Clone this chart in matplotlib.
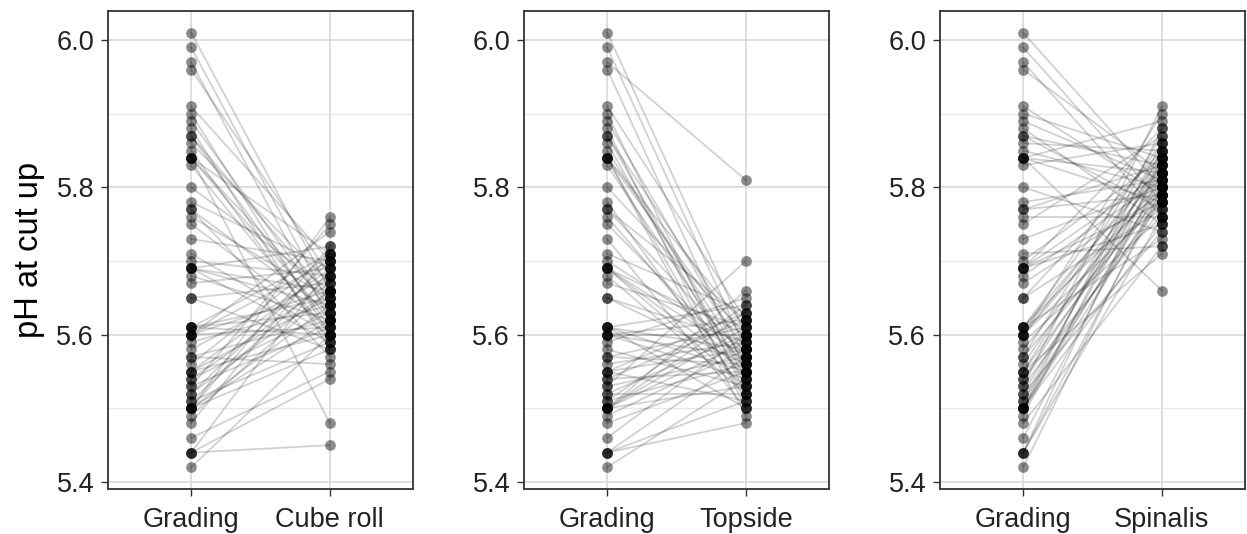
import matplotlib
matplotlib.use("Agg")
import matplotlib.pyplot as plt
from matplotlib.ticker import MultipleLocator

plt.rcParams['font.family'] = ['Liberation Sans', 'DejaVu Sans']

grading = [6.01, 5.99, 5.97, 5.96, 5.91, 5.90, 5.89, 5.88, 5.87, 5.87,
           5.86, 5.85, 5.84, 5.84, 5.84, 5.84, 5.83, 5.80, 5.78, 5.77,
           5.77, 5.76, 5.75, 5.73, 5.71, 5.70, 5.69, 5.69, 5.69, 5.69,
           5.68, 5.67, 5.65, 5.65, 5.61, 5.61, 5.61, 5.61, 5.60, 5.60,
           5.60, 5.60, 5.59, 5.58, 5.57, 5.57, 5.56, 5.55, 5.55, 5.55,
           5.54, 5.54, 5.53, 5.53, 5.52, 5.52, 5.51, 5.51, 5.50, 5.50,
           5.50, 5.50, 5.50, 5.49, 5.48, 5.46, 5.44, 5.44, 5.44, 5.42]

cube_roll = [5.66, 5.64, 5.62, 5.68, 5.70, 5.60, 5.63, 5.58, 5.65, 5.61,
             5.67, 5.59, 5.48, 5.64, 5.71, 5.62, 5.60, 5.66, 5.69, 5.63,
             5.57, 5.65, 5.61, 5.70, 5.60, 5.68, 5.64, 5.72, 5.59, 5.66,
             5.62, 5.69, 5.58, 5.67, 5.65, 5.71, 5.60, 5.63, 5.74, 5.61,
             5.66, 5.70, 5.64, 5.68, 5.62, 5.56, 5.71, 5.65, 5.69, 5.60,
             5.67, 5.63, 5.75, 5.61, 5.70, 5.66, 5.59, 5.68, 5.64, 5.72,
             5.76, 5.62, 5.58, 5.66, 5.71, 5.55, 5.45, 5.54, 5.69, 5.60]

topside = [5.60, 5.58, 5.81, 5.55, 5.62, 5.52, 5.57, 5.50, 5.54, 5.59,
           5.53, 5.56, 5.61, 5.51, 5.58, 5.49, 5.55, 5.60, 5.52, 5.57,
           5.62, 5.54, 5.56, 5.50, 5.63, 5.58, 5.55, 5.53, 5.60, 5.57,
           5.52, 5.61, 5.56, 5.59, 5.64, 5.55, 5.58, 5.50, 5.62, 5.54,
           5.57, 5.60, 5.65, 5.53, 5.56, 5.61, 5.59, 5.63, 5.51, 5.58,
           5.55, 5.62, 5.70, 5.57, 5.60, 5.52, 5.64, 5.56, 5.59, 5.61,
           5.53, 5.63, 5.66, 5.58, 5.55, 5.60, 5.48, 5.57, 5.51, 5.54]

spinalis = [5.80, 5.78, 5.76, 5.82, 5.79, 5.84, 5.81, 5.75, 5.83, 5.77,
            5.85, 5.80, 5.89, 5.66, 5.82, 5.78, 5.86, 5.74, 5.81, 5.79,
            5.83, 5.76, 5.87, 5.80, 5.72, 5.84, 5.78, 5.82, 5.75, 5.88,
            5.81, 5.79, 5.85, 5.77, 5.83, 5.80, 5.86, 5.73, 5.82, 5.78,
            5.84, 5.90, 5.76, 5.81, 5.79, 5.87, 5.83, 5.71, 5.85, 5.80,
            5.82, 5.77, 5.91, 5.78, 5.84, 5.74, 5.80, 5.86, 5.79, 5.83,
            5.81, 5.88, 5.75, 5.85, 5.72, 5.82, 5.79, 5.84, 5.76, 5.80]

cuts = ["Cube roll", "Topside", "Spinalis"]
cut_values = [cube_roll, topside, spinalis]
y_ticks = [5.4, 5.6, 5.8, 6.0]
y_label = "pH at cut up"

W, H = 1247, 534
fig = plt.figure(figsize=(W / 100, H / 100), dpi=100)
lefts = [108, 524, 940]
ax_w = 305
top, bottom = 11, 489

ymin = min(grading + cube_roll + topside + spinalis)
ymax = max(grading + cube_roll + topside + spinalis)
pad = (ymax - ymin) * 0.05

for i, (cut, vals) in enumerate(zip(cuts, cut_values)):
    ax = fig.add_axes([lefts[i] / W, 1 - bottom / H, ax_w / W, (bottom - top) / H])
    for g, v in zip(grading, vals):
        ax.plot([0, 1], [g, v], color='black', alpha=0.18, lw=1.3, zorder=2,
                solid_capstyle='round')
    ax.scatter([0] * len(grading), grading, s=60, color='black', alpha=0.45,
               linewidths=0, zorder=3)
    ax.scatter([1] * len(vals), vals, s=60, color='black', alpha=0.45,
               linewidths=0, zorder=3)
    ax.set_xlim(-0.6, 1.6)
    ax.set_ylim(ymin - pad, ymax + pad)
    ax.set_xticks([0, 1])
    ax.set_xticklabels(["Grading", cut])
    ax.set_yticks(y_ticks)
    ax.set_yticklabels([f"{t:.1f}" for t in y_ticks])
    ax.yaxis.set_minor_locator(MultipleLocator(0.1))
    ax.grid(True, which='major', color='#d9d9d9', lw=1.2, zorder=0)
    ax.grid(True, which='minor', axis='y', color='#e8e8e8', lw=1.0, zorder=0)
    ax.set_axisbelow(True)
    ax.tick_params(axis='both', which='major', labelsize=19.5, colors='#333333',
                   length=5, width=1, labelcolor='#222222', pad=5)
    ax.tick_params(axis='x', which='major', pad=8)
    ax.tick_params(axis='y', which='minor', length=0)
    for s in ax.spines.values():
        s.set_color('#333333')
        s.set_linewidth(1.3)
    if i == 0:
        ax.set_ylabel(y_label, fontsize=23.5, color='black', labelpad=8)

fig.savefig("out.png", dpi=100)
